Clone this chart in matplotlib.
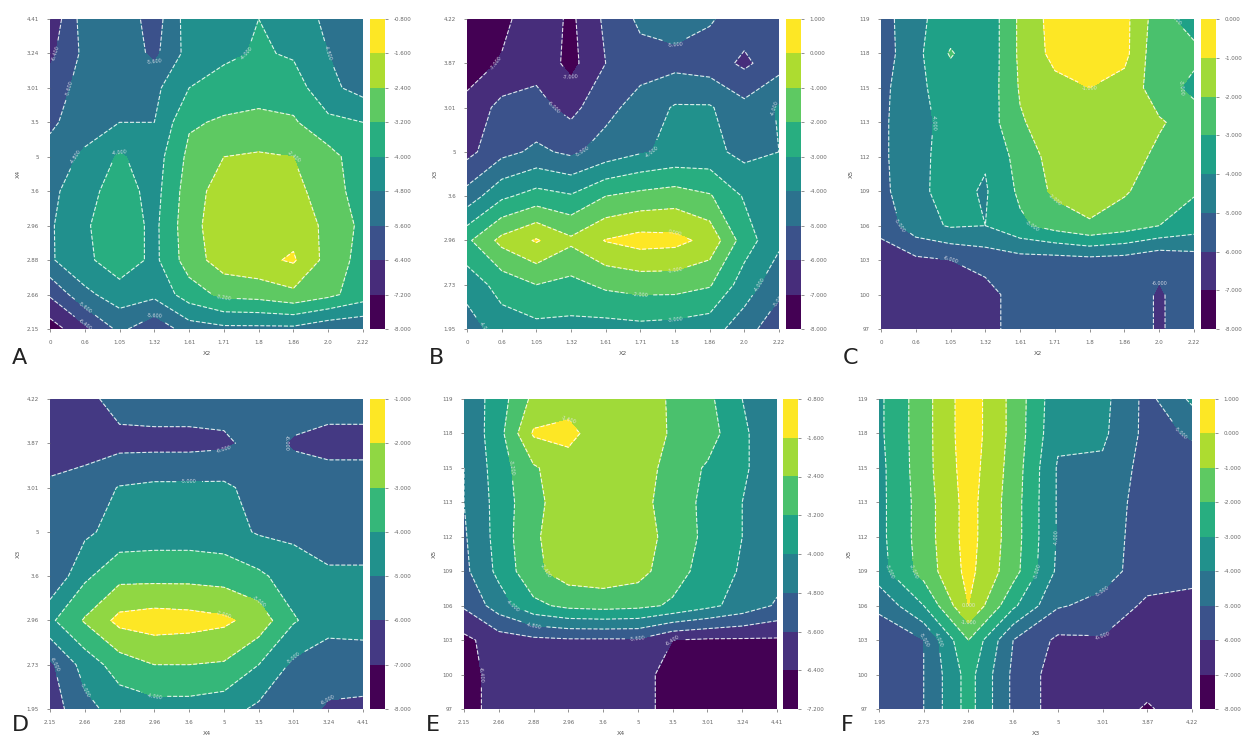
import numpy as np
import matplotlib
matplotlib.use("Agg")
import matplotlib.pyplot as plt

# tick labels of the factor levels (categorical positions)
x2_ticks = ["0", "0.6", "1.05", "1.32", "1.61", "1.71", "1.8", "1.86", "2.0", "2.22"]
x3_ticks = ["1.95", "2.73", "2.96", "3.6", "5", "3.01", "3.87", "4.22"]
x4_ticks = ["2.15", "2.66", "2.88", "2.96", "3.6", "5", "3.5", "3.01", "3.24", "4.41"]
x5_ticks = ["97", "100", "103", "106", "109", "112", "113", "115", "118", "119"]

# response surfaces, rows = y level (bottom -> top), cols = x level
z_a = [
    [-7.6, -6.6, -5.4, -6.2, -5.2, -5.0, -5.0, -5.0, -5.4, -5.5],
    [-6.3, -5.0, -4.4, -4.6, -3.6, -3.0, -2.9, -2.6, -3.0, -3.6],
    [-4.9, -4.2, -3.5, -4.2, -2.8, -2.0, -1.8, -1.5, -2.7, -3.5],
    [-4.9, -4.1, -3.5, -4.2, -2.7, -1.9, -1.8, -1.9, -2.6, -3.4],
    [-5.0, -4.3, -3.6, -4.3, -2.8, -2.0, -1.9, -2.1, -2.9, -3.5],
    [-5.4, -4.6, -3.9, -4.4, -3.0, -2.4, -2.3, -2.4, -2.9, -3.7],
    [-5.7, -5.3, -4.8, -4.8, -3.3, -3.1, -3.0, -3.1, -3.8, -4.0],
    [-6.0, -5.3, -5.0, -5.0, -4.0, -3.6, -3.5, -3.6, -4.6, -5.1],
    [-6.6, -5.4, -5.0, -5.8, -4.5, -4.2, -3.9, -4.1, -4.8, -5.2],
    [-7.0, -5.2, -5.0, -6.0, -4.4, -4.2, -4.0, -4.3, -5.0, -5.2],
]
z_b = [
    [-4.5, -3.5, -3.3, -3.3, -3.4, -3.3, -3.4, -3.6, -4.5, -5.8],
    [-3.6, -2.6, -2.0, -2.3, -1.8, -1.6, -1.6, -1.9, -3.5, -4.6],
    [-2.2, -0.7, 0.1, -0.8, 0.05, 0.4, 0.3, -0.3, -2.5, -3.8],
    [-4.6, -3.2, -2.6, -2.9, -2.0, -1.7, -1.5, -1.9, -3.1, -3.6],
    [-6.3, -5.3, -4.8, -5.2, -4.6, -4.1, -3.8, -3.7, -4.3, -4.0],
    [-6.7, -5.7, -5.7, -6.3, -5.3, -4.6, -3.9, -3.9, -4.7, -3.9],
    [-7.5, -6.9, -6.3, -7.3, -6.0, -5.4, -5.3, -5.5, -6.2, -5.4],
    [-7.8, -7.3, -6.3, -7.2, -5.8, -4.8, -4.6, -4.9, -5.5, -5.6],
]
z_c = [
    [-6.5, -6.5, -6.5, -6.4, -5.5, -5.5, -5.5, -5.5, -6.1, -5.5],
    [-6.5, -6.5, -6.5, -6.4, -5.5, -5.5, -5.5, -5.5, -6.1, -5.5],
    [-6.5, -6.2, -6.0, -5.6, -5.4, -5.4, -5.3, -5.4, -5.8, -5.5],
    [-5.7, -4.4, -3.9, -4.0, -3.2, -2.6, -2.1, -2.5, -3.0, -3.5],
    [-5.3, -4.2, -3.7, -4.1, -2.8, -1.8, -1.6, -1.9, -2.5, -2.9],
    [-5.2, -4.3, -3.6, -3.9, -2.6, -1.6, -1.5, -1.6, -2.2, -2.5],
    [-5.2, -4.3, -3.7, -3.6, -2.1, -1.5, -1.4, -1.5, -1.9, -2.4],
    [-5.3, -4.2, -3.6, -3.7, -1.9, -1.3, -1.0, -1.4, -2.5, -3.3],
    [-5.5, -4.3, -2.9, -3.8, -1.8, -0.7, -0.5, -0.7, -2.8, -2.7],
    [-5.5, -4.2, -3.6, -3.8, -1.8, -0.6, -0.5, -0.7, -2.6, -3.5],
]
z_d = [
    [-6.5, -5.3, -4.6, -4.4, -4.4, -4.6, -5.2, -5.6, -6.1, -6.2],
    [-6.2, -4.6, -3.5, -3.0, -3.0, -3.1, -4.0, -5.2, -5.6, -5.5],
    [-4.2, -2.9, -1.7, -1.5, -1.6, -1.8, -2.4, -3.9, -4.6, -4.6],
    [-5.9, -4.2, -3.3, -3.3, -3.3, -3.4, -3.8, -4.5, -4.9, -4.9],
    [-5.4, -5.2, -4.6, -4.5, -4.5, -4.6, -5.1, -5.2, -5.3, -5.3],
    [-5.8, -5.5, -4.95, -4.8, -4.8, -4.8, -5.4, -5.5, -5.5, -5.5],
    [-6.6, -6.5, -6.3, -6.3, -6.3, -6.2, -5.6, -6.1, -6.3, -6.3],
    [-6.6, -6.3, -5.6, -5.5, -5.5, -5.5, -5.5, -5.5, -5.6, -5.6],
]
z_e = [
    [-6.8, -6.0, -6.0, -6.0, -6.0, -6.0, -6.8, -6.8, -6.8, -6.8],
    [-6.8, -6.0, -6.0, -6.0, -6.0, -6.0, -6.8, -6.8, -6.8, -6.8],
    [-6.6, -6.0, -5.8, -5.7, -5.7, -5.7, -6.4, -6.5, -6.5, -6.5],
    [-5.5, -4.4, -3.4, -3.0, -2.9, -3.0, -3.3, -3.8, -4.3, -4.9],
    [-5.0, -3.8, -2.6, -2.0, -1.9, -2.1, -2.9, -3.5, -4.1, -4.5],
    [-4.9, -3.7, -2.5, -2.0, -1.9, -2.0, -2.7, -3.4, -4.0, -4.4],
    [-4.8, -3.7, -2.6, -2.0, -1.9, -2.1, -2.8, -3.4, -4.0, -4.4],
    [-4.8, -3.6, -2.5, -1.9, -1.9, -2.0, -2.7, -3.3, -3.9, -4.4],
    [-4.7, -3.5, -1.5, -1.4, -2.0, -1.9, -2.5, -2.8, -3.9, -4.4],
    [-4.6, -3.6, -2.2, -1.9, -2.0, -2.0, -2.5, -3.0, -4.0, -4.4],
]
z_f = [
    [-5.5, -5.0, -2.6, -5.2, -6.5, -6.5, -7.1, -6.5],
    [-5.5, -5.0, -2.6, -5.2, -6.5, -6.5, -6.6, -6.5],
    [-5.6, -5.0, -2.0, -5.0, -6.2, -6.1, -6.6, -6.5],
    [-4.8, -3.0, 0.0, -2.8, -4.9, -5.3, -6.2, -6.4],
    [-3.4, -1.6, 0.3, -1.6, -4.2, -4.6, -5.5, -5.6],
    [-3.3, -1.5, 0.4, -1.5, -4.1, -4.6, -5.4, -5.5],
    [-3.3, -1.5, 0.4, -1.5, -4.1, -4.5, -5.4, -5.4],
    [-3.3, -1.4, 0.5, -1.4, -4.1, -4.2, -5.4, -5.4],
    [-3.2, -1.4, 0.6, -1.3, -3.8, -3.8, -5.3, -4.9],
    [-3.2, -1.4, 0.6, -1.3, -3.7, -3.7, -5.3, -3.8],
]

levels_a = [-8.0, -7.2, -6.4, -5.6, -4.8, -4.0, -3.2, -2.4, -1.6, -0.8]
levels_b = [-8.0, -7.0, -6.0, -5.0, -4.0, -3.0, -2.0, -1.0, 0.0, 1.0]
levels_c = [-8.0, -7.0, -6.0, -5.0, -4.0, -3.0, -2.0, -1.0, 0.0]
levels_d = [-8.0, -7.0, -6.0, -5.0, -4.0, -3.0, -2.0, -1.0]
levels_e = [-7.2, -6.4, -5.6, -4.8, -4.0, -3.2, -2.4, -1.6, -0.8]
levels_f = [-8.0, -7.0, -6.0, -5.0, -4.0, -3.0, -2.0, -1.0, 0.0, 1.0]

W, H = 1243.0, 736.0
# letter, z, levels, xticks, yticks, xlabel, ylabel, axes box px (l, top, w, h), cbar left px, letter baseline px
panels = [
    ("A", z_a, levels_a, x2_ticks, x4_ticks, "X2", "X4", (50, 19, 313, 310), 370, 364),
    ("B", z_b, levels_b, x2_ticks, x3_ticks, "X2", "X3", (467, 19, 312, 310), 786, 364),
    ("C", z_c, levels_c, x2_ticks, x5_ticks, "X2", "X5", (881, 19, 313, 310), 1201, 364),
    ("D", z_d, levels_d, x4_ticks, x3_ticks, "X4", "X3", (50, 399, 313, 310), 370, 731),
    ("E", z_e, levels_e, x4_ticks, x5_ticks, "X4", "X5", (464, 399, 313, 310), 783, 731),
    ("F", z_f, levels_f, x3_ticks, x5_ticks, "X3", "X5", (879, 399, 313, 310), 1200, 731),
]

fig = plt.figure(figsize=(W / 100, H / 100), dpi=100)

for letter, z, levels, xt, yt, xl, yl, box, cb_left, base in panels:
    l, t, w, h = box
    ax = fig.add_axes([l / W, 1 - (t + h) / H, w / W, h / H])
    cax = fig.add_axes([cb_left / W, 1 - (t + h) / H, 15 / W, h / H])
    z = np.array(z)
    xs = np.arange(z.shape[1])
    ys = np.arange(z.shape[0])
    step = levels[1] - levels[0]
    cf = ax.contourf(xs, ys, z, levels=levels, cmap="viridis",
                     vmin=levels[0] + step / 2, vmax=levels[-1] - step / 2)
    cs = ax.contour(xs, ys, z, levels=levels, colors="white",
                    linestyles="--", linewidths=0.8, alpha=0.85)
    ax.clabel(cs, fmt="%.3f", fontsize=3.5, colors="#e8e8f0", inline=True)

    ax.set_xticks(xs)
    ax.set_xticklabels(xt)
    ax.set_yticks(ys)
    ax.set_yticklabels(yt)
    ax.tick_params(labelsize=4, length=2, width=0.5, colors="#666666", pad=6)
    ax.set_xlabel(xl, fontsize=4.5, color="#555555", labelpad=4)
    ax.set_ylabel(yl, fontsize=4.5, color="#555555", labelpad=4)
    for sp in ax.spines.values():
        sp.set_visible(False)

    cb = fig.colorbar(cf, cax=cax, ticks=levels, format="%.3f")
    cb.outline.set_visible(False)
    cb.ax.tick_params(labelsize=4, length=2, width=0.5, colors="#666666", pad=4)

    fig.text((l - 38) / W, 1 - base / H, letter, fontsize=16,
             ha="left", va="baseline", color="#222222")

fig.savefig("out.png", dpi=100)
